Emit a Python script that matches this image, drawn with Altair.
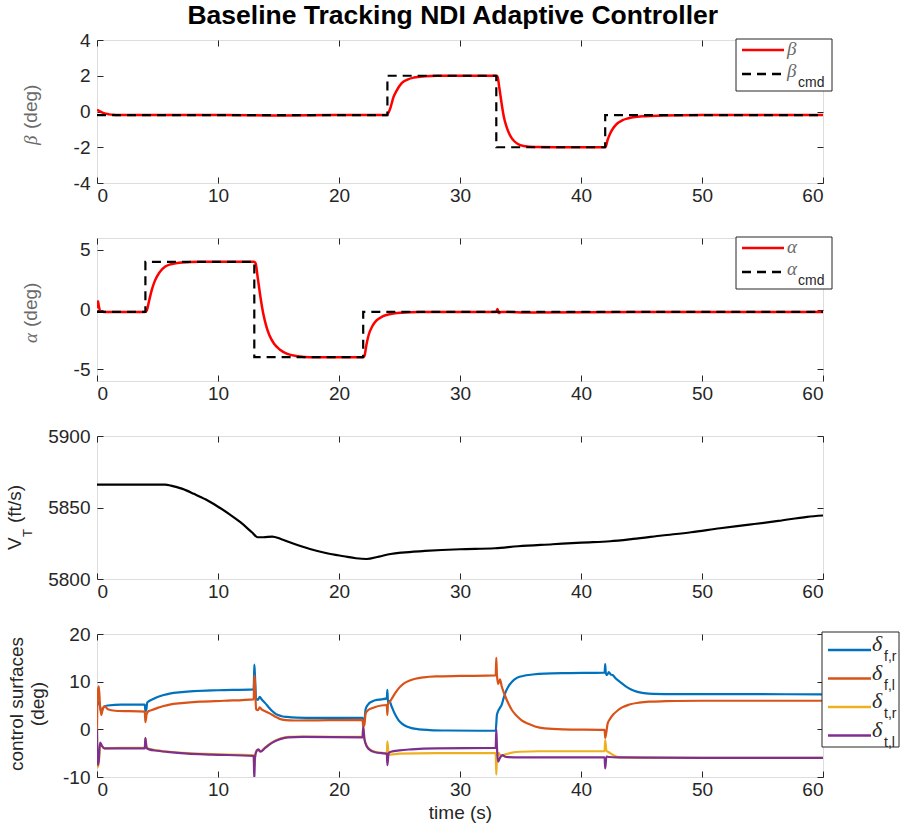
import altair as alt
import pandas as pd

FONT = "Liberation Sans"
SERIF = "Liberation Serif"
INK = "#262626"
W, H = 726, 143
XT = [0, 10, 20, 30, 40, 50, 60]

# ---------------- sideslip angle (deg) ----------------
beta_t = [0, 0.2, 0.5, 1.0, 1.5, 2, 5, 10, 15, 20, 23.95, 24.1, 24.27, 24.5, 24.75, 25.2,
          25.7, 26.2, 27.1, 28.1, 30, 32.95, 33.1, 33.25, 33.45, 33.64, 33.83, 34.07,
          34.3, 34.78, 35.26, 36.2, 38, 40, 41.95, 42.05, 42.2, 42.43, 42.67, 42.9,
          43.4, 43.86, 44.3, 45.3, 46.7, 50, 55, 60]
beta_v = [0.1, 0.02, -0.08, -0.16, -0.19, -0.2, -0.2, -0.2, -0.22, -0.2, -0.2, -0.05,
          0.25, 0.8, 1.15, 1.6, 1.8, 1.9, 1.97, 2.0, 2.0, 2.0, 1.95, 1.33, 0.4, -0.35,
          -0.82, -1.25, -1.52, -1.82, -1.93, -1.99, -2.0, -2.0, -2.0, -1.95, -1.59,
          -1.2, -0.92, -0.73, -0.5, -0.39, -0.32, -0.26, -0.23, -0.2, -0.2, -0.2]
beta_cmd_t = [0, 24, 24, 33, 33, 42, 42, 60]
beta_cmd_v = [-0.2, -0.2, 2, 2, -2, -2, -0.2, -0.2]

# ---------------- angle of attack (deg) ----------------
alpha_t = [0, 0.08, 0.15, 0.3, 0.6, 2, 3.95, 4.1, 4.3, 4.5, 4.78, 5.16, 5.64, 6.1, 7.07,
           8.5, 10, 12.95, 13.1, 13.28, 13.52, 13.76, 14.0, 14.24, 14.62, 15.1, 15.67,
           16.6, 17.6, 20, 21.95, 22.1, 22.26, 22.45, 22.74, 23.1, 23.6, 24.27, 25.2,
           26.7, 30, 33.0, 33.1, 33.2, 33.4, 36, 45, 60]
alpha_v = [0.1, 0.7, 0.3, -0.15, -0.2, -0.2, -0.2, -0.1, 0.7, 1.54, 2.4, 3.1, 3.6, 3.8,
           3.95, 4.0, 4.0, 4.0, 3.9, 2.7, 0.97, -0.44, -1.43, -2.14, -2.85, -3.36, -3.7,
           -3.92, -4.0, -4.0, -4.0, -3.9, -3.0, -2.14, -1.43, -0.92, -0.58, -0.38, -0.27,
           -0.21, -0.2, -0.2, 0.05, -0.3, -0.2, -0.25, -0.2, -0.2]
alpha_cmd_t = [0, 4, 4, 13, 13, 22, 22, 60]
alpha_cmd_v = [-0.2, -0.2, 4, 4, -4, -4, -0.2, -0.2]

# ---------------- total velocity (ft/s) ----------------
vt_t = [0, 5.64, 6.1, 7.07, 8.0, 9.0, 9.94, 10.9, 11.85, 12.8, 13.28, 13.76, 14.48,
        15.19, 16.15, 17.6, 19.0, 20.4, 21.4, 22.27, 23.3, 24.27, 25.2, 27.1, 30.0,
        32.9, 34.8, 37.65, 40.04, 42.4, 44.3, 46.7, 49.1, 51.5, 53.9, 56.3, 58.7, 60]
vt_v = [5866, 5866, 5865.3, 5863, 5859.6, 5855.6, 5850.9, 5845.6, 5839.7, 5832.7,
        5829.2, 5829.2, 5829.7, 5828, 5825, 5821, 5818, 5815.9, 5814.5, 5814, 5815.7,
        5817.5, 5818.5, 5819.6, 5820.8, 5821.5, 5822.9, 5824.3, 5825.5, 5826.4, 5828,
        5830.4, 5832.7, 5835.5, 5838, 5840.6, 5843.5, 5844.4]

# ---------------- control surface deflections (deg) ----------------
dfr_t = [0, 0.15, 0.35, 0.6, 0.9, 2, 3.95, 4.0, 4.08, 4.15, 4.3, 4.6, 5.0, 5.5, 6.0, 7.0,
         8.0, 10, 12.95, 13.0, 13.05, 13.15, 13.3, 13.45, 13.6, 13.9, 14.2, 14.5, 14.8,
         15.2, 15.7, 16.5, 18, 20, 21.95, 22.0, 22.1, 22.2, 22.4, 22.7, 23.0, 23.5,
         23.95, 24.0, 24.05, 24.15, 24.35, 24.6, 24.9, 25.2, 25.6, 26.0, 26.6, 27.5, 29,
         32.95, 33.05, 33.15, 33.3, 33.45, 33.6, 33.8, 34.0, 34.3, 34.7, 35.2, 36, 37, 39,
         41.95, 42.0, 42.05, 42.15, 42.3, 42.45, 42.6, 42.9, 43.3, 43.7, 44.1, 44.6, 45.2,
         46, 48, 60]
dfr_v = [5.0, 5.8, 3.8, 4.8, 5.0, 5.2, 5.2, 3.8, 4.2, 5.6, 5.9, 6.3, 6.8, 7.2, 7.5, 7.8,
         8.0, 8.2, 8.4, 13.6, 11.5, 6.5, 6.2, 6.8, 6.3, 5.5, 4.6, 3.8, 3.2, 2.8, 2.6, 2.45,
         2.4, 2.4, 2.4, 1.2, 1.8, 4.2, 5.2, 5.8, 6.1, 6.3, 6.5, 8.3, 5.5, 6.0, 4.8, 3.3,
         2.0, 1.2, 0.6, 0.25, 0.0, -0.15, -0.25, -0.3, 3.0, 3.8, 4.5, 5.2, 6.5, 8.0, 9.0,
         10.0, 10.8, 11.2, 11.5, 11.7, 11.8, 11.9, 13.7, 11.8, 11.4, 12.0, 11.5, 11.4, 10.6,
         9.8, 9.0, 8.4, 7.9, 7.6, 7.45, 7.4, 7.35]

dfl_t = [0, 0.05, 0.15, 0.25, 0.35, 0.5, 0.65, 0.9, 1.5, 3.95, 4.0, 4.1, 4.25, 4.6, 5.0,
         5.5, 6.0, 7.0, 8.5, 10.5, 12.95, 13.0, 13.05, 13.15, 13.3, 13.45, 13.6, 13.9,
         14.3, 14.7, 15.1, 15.6, 16.3, 18, 21.95, 22.0, 22.1, 22.2, 22.4, 22.7, 23.0,
         23.5, 23.95, 24.0, 24.05, 24.2, 24.4, 24.7, 25.0, 25.4, 25.8, 26.3, 27, 28, 30,
         32.95, 33.0, 33.05, 33.15, 33.3, 33.45, 33.7, 34.0, 34.3, 34.7, 35.1, 35.6, 36.2,
         37, 38.5, 41.95, 42.0, 42.1, 42.2, 42.4, 42.7, 43.0, 43.4, 44.0, 44.8, 45.6, 47,
         50, 60]
dfl_v = [0.0, 7.5, 9.0, 5.0, 3.0, 4.5, 4.8, 4.2, 3.9, 3.7, 1.5, 3.2, 3.8, 4.1, 4.5, 4.9,
         5.2, 5.5, 5.8, 6.0, 6.3, 11.3, 10.0, 4.2, 4.0, 4.6, 4.2, 3.8, 3.3, 2.7, 2.2, 1.95,
         1.85, 1.9, 2.0, 0.5, 1.0, 3.3, 4.0, 4.4, 4.7, 5.0, 5.1, 3.0, 5.5, 5.8, 6.6, 7.8,
         8.8, 9.7, 10.2, 10.6, 10.9, 11.1, 11.2, 11.3, 15.0, 11.5, 9.5, 10.5, 9.0, 7.2,
         5.4, 4.0, 2.8, 1.9, 1.2, 0.6, 0.2, 0.0, -0.1, -1.8, -0.5, 1.2, 2.2, 3.2, 3.9,
         4.6, 5.2, 5.6, 5.8, 5.9, 6.0, 6.0]

dtr_t = [0, 0.05, 0.15, 0.25, 0.4, 0.6, 2, 3.95, 4.0, 4.1, 4.3, 5.0, 6.0, 7.5, 9.5, 12.95,
         13.0, 13.1, 13.25, 13.5, 13.9, 14.3, 14.7, 15.2, 15.8, 17, 21.95, 22.0, 22.1,
         22.3, 22.6, 23.0, 23.5, 23.95, 24.0, 24.1, 24.3, 25, 28, 32.95, 33.0, 33.05,
         33.2, 33.4, 33.7, 34.3, 35, 36.5, 41.95, 42.0, 42.1, 42.3, 42.6, 42.9, 43.3, 45,
         60]
dtr_v = [0.0, -8.0, -7.0, -3.0, -3.5, -4.0, -3.9, -3.9, -2.0, -3.8, -4.1, -4.4, -4.7,
         -5.0, -5.2, -5.4, -8.0, -5.0, -4.3, -4.6, -3.8, -3.0, -2.4, -1.9, -1.6, -1.55,
         -1.6, 0.5, -2.0, -3.5, -4.3, -4.7, -4.9, -5.0, -2.5, -5.3, -5.3, -5.1, -5.0,
         -5.0, -9.5, -6.0, -5.0, -5.6, -5.3, -4.9, -4.7, -4.6, -4.6, -2.2, -4.5, -4.8,
         -5.3, -5.7, -5.9, -6.0, -6.0]

dtl_t = [0, 0.05, 0.15, 0.25, 0.4, 0.6, 2, 3.95, 4.0, 4.1, 4.3, 5.0, 6.0, 7.5, 9.5, 12.95,
         13.0, 13.05, 13.2, 13.35, 13.5, 13.9, 14.3, 14.7, 15.2, 15.8, 17, 21.95, 22.0,
         22.1, 22.3, 22.6, 23.0, 23.5, 23.95, 24.0, 24.1, 24.3, 25, 26, 28, 32.95, 33.0,
         33.05, 33.15, 33.3, 33.5, 33.8, 35, 41.95, 42.0, 42.1, 42.3, 43, 50, 60]
dtl_v = [0.0, -7.5, -6.5, -2.8, -3.4, -4.0, -4.0, -4.0, -1.8, -3.9, -4.2, -4.5, -4.8,
         -5.1, -5.3, -5.6, -10.5, -6.0, -4.5, -4.2, -4.7, -3.9, -3.1, -2.5, -2.0, -1.7,
         -1.6, -1.7, 0.5, -2.0, -3.6, -4.4, -4.8, -5.0, -5.1, -7.5, -5.0, -4.7, -4.4,
         -4.2, -4.0, -3.9, 0.0, -3.5, -6.8, -6.0, -5.4, -5.8, -5.9, -5.9, -8.2, -5.7,
         -5.8, -5.9, -6.0, -6.0]

BLUE, ORANGE, YELLOW, PURPLE = "#0072BD", "#D95319", "#EDB120", "#7E2F8E"
LABEL_SIZE = 19


def frame(t, v):
    return pd.DataFrame({"t": t, "v": v})


def axis_style(orient, labels, values, title=None):
    kw = dict(orient=orient, values=values, labels=labels, offset=-6, tickSize=6,
              tickColor=INK, tickWidth=1, domain=False, grid=False,
              labelFont=FONT, labelFontSize=LABEL_SIZE, labelColor=INK,
              labelExpr="'' + datum.value")
    kw["labelPadding"] = 3 if orient in ("bottom", "top") else 7
    if title:
        kw.update(title=title, titleFont=FONT, titleFontSize=LABEL_SIZE,
                  titleFontWeight="normal", titleColor=INK, titlePadding=4)
    return alt.Axis(**kw)


def xy(ydom, yticks, main, xtitle=None):
    xs = alt.Scale(domain=[0, 60], nice=False, zero=False)
    ys = alt.Scale(domain=ydom, nice=False, zero=False)
    if main:
        xa = axis_style("bottom", True, XT, xtitle)
        ya = axis_style("left", True, yticks)
    else:
        xa = axis_style("top", False, XT)
        ya = axis_style("right", False, yticks)
    return dict(x=alt.X("t:Q", scale=xs, axis=xa, title=xtitle if xtitle else None),
                y=alt.Y("v:Q", scale=ys, axis=ya, title=None))


def series(df, color, width, ydom, yticks, role, dash=None, xtitle=None, opacity=1,
           smooth=True):
    mk = dict(color=color, strokeWidth=width, clip=True, opacity=opacity,
              interpolate="monotone" if smooth else "linear")
    if dash:
        mk["strokeDash"] = dash
    if role in ("main", "frame"):
        enc = xy(ydom, yticks, role == "main", xtitle)
    else:
        enc = dict(
            x=alt.X("t:Q", scale=alt.Scale(domain=[0, 60], nice=False), axis=None),
            y=alt.Y("v:Q", scale=alt.Scale(domain=ydom, nice=False, zero=False), axis=None))
    return alt.Chart(df).mark_line(**mk).encode(**enc)


ONE = pd.DataFrame({"k": [0]})


def box(x0, x1, y0, y1):
    return alt.Chart(ONE).mark_rect(fill="white", stroke=INK, strokeWidth=1).encode(
        x=alt.value(x0), x2=alt.value(x1), y=alt.value(y0), y2=alt.value(y1))


def sample(x0, x1, y, color, width, dash=None):
    mk = dict(color=color, strokeWidth=width)
    if dash:
        mk["strokeDash"] = dash
    return alt.Chart(ONE).mark_rule(**mk).encode(
        x=alt.value(x0), x2=alt.value(x1), y=alt.value(y))


def label(text, x, y, size=18, font=FONT, color=INK, style="normal", align="left",
          baseline="alphabetic", angle=0):
    mk = dict(text=text, font=font, fontSize=size, color=color, fontStyle=style,
              align=align, baseline=baseline)
    if angle:
        mk["angle"] = angle
    return alt.Chart(ONE).mark_text(**mk).encode(x=alt.value(x), y=alt.value(y))


def greek_legend(sym):
    return [
        box(639, 735, -1, 51),
        sample(645, 687, 10, "#FF0000", 2.5),
        label(sym, 690, 15, size=19, font=SERIF, color="#6a6a6a", style="italic"),
        sample(645, 687, 34, "black", 2.5, [9, 6]),
        label(sym, 690, 37, size=19, font=SERIF, color="#6a6a6a", style="italic"),
        label("cmd", 701, 47, size=14),
    ]


def greek_title(sym, center_y):
    # rotated "<sym> (deg)": italic serif symbol followed by the unit
    return [
        label(sym, -60, center_y + 33, size=19, font=SERIF, color="#6a6a6a",
              style="italic", angle=270),
        label("(deg)", -60, center_y + 17, size=19, color="#6a6a6a", angle=270),
    ]


# panel 1: sideslip tracking
B_DOM, B_TK = [-4, 4], [-4, -2, 0, 2, 4]
p1 = alt.layer(
    series(frame(beta_t, beta_v), "#FF0000", 2.5, B_DOM, B_TK, "main"),
    series(frame(beta_cmd_t, beta_cmd_v), "black", 2.2, B_DOM, B_TK, "frame", dash=[9, 6],
           smooth=False),
    *greek_legend("β"),
    *greek_title("β", 72),
).resolve_axis(x="independent", y="independent").properties(width=W, height=H)

# panel 2: angle-of-attack tracking
A_DOM, A_TK = [-6, 6], [-5, 0, 5]
p2 = alt.layer(
    series(frame(alpha_t, alpha_v), "#FF0000", 2.5, A_DOM, A_TK, "main"),
    series(frame(alpha_cmd_t, alpha_cmd_v), "black", 2.2, A_DOM, A_TK, "frame",
           dash=[9, 6], smooth=False),
    *greek_legend("α"),
    *greek_title("α", 72),
).resolve_axis(x="independent", y="independent").properties(width=W, height=H)

# panel 3: total velocity
V_DOM, V_TK = [5800, 5900], [5800, 5850, 5900]
vt = frame(vt_t, vt_v)
p3 = alt.layer(
    series(vt, "black", 2.2, V_DOM, V_TK, "main"),
    series(vt, "black", 1, V_DOM, V_TK, "frame", opacity=0),
    label("V", -76, 114, size=19, angle=270),
    label("T", -65, 101, size=13, angle=270),
    label("(ft/s)", -76, 87, size=19, angle=270),
).resolve_axis(x="independent", y="independent").properties(width=W, height=H)

# panel 4: control surfaces
C_DOM, C_TK = [-10, 20], [-10, 0, 10, 20]
leg4 = [box(725, 802, -2, 113)]
for i, (col, sub) in enumerate([(BLUE, "f,r"), (ORANGE, "f,l"), (YELLOW, "t,r"), (PURPLE, "t,l")]):
    yy = 16 + i * 28.5
    leg4 += [
        sample(731, 774, yy, col, 2.5),
        label("δ", 775, yy + 1, size=22, font=SERIF, style="italic"),
        label(sub, 787, yy + 11, size=14),
    ]
p4 = alt.layer(
    series(frame(dfr_t, dfr_v), BLUE, 2.2, C_DOM, C_TK, "main", xtitle="time (s)"),
    series(frame(dfl_t, dfl_v), ORANGE, 2.2, C_DOM, C_TK, "frame"),
    series(frame(dtr_t, dtr_v), YELLOW, 2.2, C_DOM, C_TK, "plain"),
    series(frame(dtl_t, dtl_v), PURPLE, 2.2, C_DOM, C_TK, "plain"),
    *leg4,
    label(["control surfaces", "(deg)"], -80, 70, size=19, align="center",
          baseline="middle", angle=270),
).resolve_axis(x="independent", y="independent").properties(width=W, height=H)

chart = alt.vconcat(p1, p2, p3, p4, spacing=55, bounds="flush").properties(
    title=alt.TitleParams("Baseline Tracking NDI Adaptive Controller", font=FONT,
                          fontSize=26.5, fontWeight="bold", color="black", anchor="middle",
                          offset=1),
    padding={"left": 5, "top": 3, "right": 2, "bottom": 5},
).configure_view(stroke=INK, strokeWidth=1).configure(background="white")

chart.save("out.html", embed_options={"renderer": "svg", "actions": False})
